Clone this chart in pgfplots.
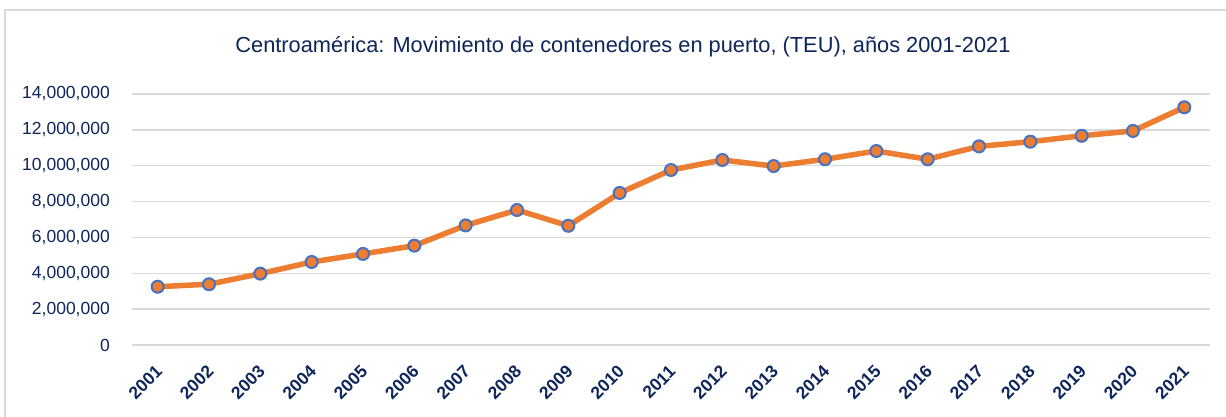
\documentclass[border=0pt]{standalone}
\usepackage{fontspec}
\setmainfont{Liberation Sans}
\usepackage{pgfplots}
\pgfplotsset{compat=1.18}
\definecolor{navy}{RGB}{14,38,90}
\definecolor{org}{RGB}{237,125,49}
\definecolor{mblue}{RGB}{68,114,196}
\definecolor{gridc}{RGB}{217,217,217}
\begin{document}
\begin{tikzpicture}[x=1pt,y=1pt]
\useasboundingbox (0,0) rectangle (1226,416);
\fill[white] (0,0) rectangle (1226,416);
\draw[line width=1.5pt, color=gridc] (5,-5) -- (5,406) -- (1232,406);
\node[text=navy, font=\fontsize{21.8}{26}\selectfont, anchor=center] at (623,369) {Centroamérica: Movimiento de contenedores en puerto, (TEU), años 2001-2021};
\begin{axis}[
  at={(132pt,71pt)}, anchor=south west,
  width=1078pt, height=251pt, scale only axis,
  xmin=-0.5, xmax=20.5, ymin=0, ymax=14000000,
  ytick={0,2000000,4000000,6000000,8000000,10000000,12000000,14000000},
  xtick={0,...,20},
  xticklabels={2001,2002,2003,2004,2005,2006,2007,2008,2009,2010,2011,2012,2013,2014,2015,2016,2017,2018,2019,2020,2021},
  scaled y ticks=false,
  axis line style={draw=none},
  major tick length=0pt,
  ymajorgrids,
  grid style={gridc, line width=1.5pt},
  clip=false,
  yticklabel style={text=navy, font=\fontsize{17.5}{20}\selectfont, inner sep=0pt, xshift=-22pt,
    /pgf/number format/fixed, /pgf/number format/1000 sep={,}, /pgf/number format/assume math mode=true},
  xticklabel style={text=navy, font=\bfseries\fontsize{17.5}{20}\selectfont, inner sep=0pt, xshift=-3pt, yshift=-19pt, rotate=45, anchor=north east},
]
\addplot[org, line width=5.5pt, mark=*, mark size=6pt, mark options={fill=org, draw=mblue, line width=2pt}] coordinates {
(0,3250000) (1,3390000) (2,3980000) (3,4630000) (4,5080000) (5,5540000) (6,6670000) (7,7530000) (8,6650000) (9,8480000)
(10,9760000) (11,10320000) (12,9980000) (13,10360000) (14,10820000) (15,10360000) (16,11080000) (17,11340000) (18,11670000) (19,11940000) (20,13260000)
};
\end{axis}
\end{tikzpicture}
\end{document}
